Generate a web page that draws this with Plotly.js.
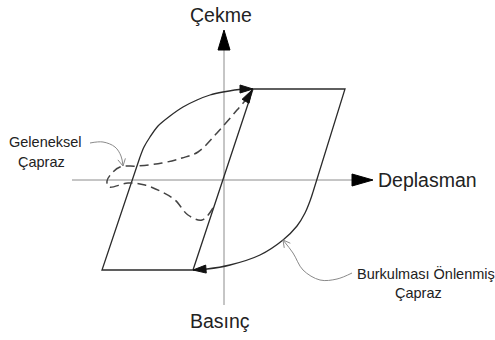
<!DOCTYPE html>
<html>
<head>
<meta charset="utf-8">
<script src="https://cdn.plot.ly/plotly-3.0.1.min.js"></script>
<style>html,body{margin:0;padding:0;background:#fff;}#chart{width:495px;height:340px;}</style>
</head>
<body>
<div id="chart"></div>
<script>
// ---- Data (schematic units: displacement / force) ----
// BRB straight branches (elastic lines + yield plateaus)
const brbEnvX = [-8.4, -12.2, -3.1, 2.9, 12.1, 8.9];
const brbEnvY = [2.3, -9.0, -9.0, 9.1, 9.1, -1.2];
// BRB loading curve (compression -> tension)
const brbLoadX = [-8.4, -8.0, -7.4, -6.6, -5.4, -4.1, -2.7, -1.4, -0.1, 1.9, 2.9];
const brbLoadY = [2.3, 3.3, 4.3, 5.4, 6.4, 7.3, 8.0, 8.5, 8.8, 9.1, 9.1];
// BRB unloading curve (tension -> compression)
const brbUnloadX = [8.9, 8.6, 8.1, 7.3, 5.9, 3.6, 0.6, -1.7, -3.1];
const brbUnloadY = [-1.2, -2.1, -3.3, -4.6, -6.0, -7.5, -8.5, -8.9, -9.0];
// Conventional brace (dashed)
const convX = [-1.1, -2.2, -3.6, -4.9, -6.2, -7.9, -9.6, -11.5, -11.7, -11.2, -10.4, -8.6, -6.2, -4.2, -2.6, -0.7, 1.3, 2.4, 2.8];
const convY = [-2.8, -4.0, -3.5, -2.0, -1.2, -0.5, -0.3, -0.7, -0.1, 0.7, 1.3, 1.4, 1.7, 2.2, 2.8, 4.7, 7.0, 8.3, 9.0];
// Axes extents
const axisXExtent = [-15.2, 14.9];
const axisYExtent = [-12.5, 15.0];
// Callout leader curves
const callConvX = [-13.4, -12.1, -10.9, -10.3, -10.1];
const callConvY = [3.7, 3.8, 3.3, 2.4, 1.4];
const callBrbX = [12.8, 11.3, 9.6, 7.9, 6.9, 5.9];
const callBrbY = [-9.3, -9.9, -10.0, -9.0, -7.3, -6.0];
// Labels
const labelTension = "Çekme";
const labelCompression = "Basınç";
const labelDisp = "Deplasman";
const labelConv = ["Geleneksel", "Çapraz"];
const labelBrb = ["Burkulması Önlenmiş", "Çapraz"];

// ---- helpers ----
function head(tx, ty, fx, fy, len, hw) {
  const dx = tx - fx, dy = ty - fy, L = Math.hypot(dx, dy);
  const ux = dx / L, uy = dy / L;
  const bx = tx - ux * len, by = ty - uy * len;
  return { x: [tx, bx - uy * hw, bx + uy * hw, tx], y: [ty, by + ux * hw, by - ux * hw, ty] };
}
function vee(tx, ty, fx, fy, len, ang) {
  const dx = tx - fx, dy = ty - fy, L = Math.hypot(dx, dy);
  const ux = dx / L, uy = dy / L;
  const r = (a) => [ux * Math.cos(a) - uy * Math.sin(a), ux * Math.sin(a) + uy * Math.cos(a)];
  const p = r(ang), q = r(-ang);
  return { x: [tx - p[0] * len, tx, tx - q[0] * len], y: [ty - p[1] * len, ty, ty - q[1] * len] };
}
const triTrace = (h, color) => ({ x: h.x, y: h.y, mode: 'lines', fill: 'toself', fillcolor: color, line: { color: color, width: 1 }, hoverinfo: 'skip' });

const dark = '#2b2b2b', axisGray = '#8c8c8c', callGray = '#8a8a8a';
const traces = [];
// axes lines
const hxHead = head(axisXExtent[1], 0, axisXExtent[0], 0, 2.1, 0.6);
const vyHead = head(0, axisYExtent[1], 0, axisYExtent[0], 2.0, 0.6);
traces.push({ x: [axisXExtent[0], axisXExtent[1] - 2.1], y: [0, 0], mode: 'lines', line: { color: axisGray, width: 1 }, hoverinfo: 'skip' });
traces.push({ x: [0, 0], y: [axisYExtent[0], axisYExtent[1] - 2.0], mode: 'lines', line: { color: axisGray, width: 1 }, hoverinfo: 'skip' });
traces.push(triTrace(hxHead, '#000'));
traces.push(triTrace(vyHead, '#000'));
// BRB
traces.push({ x: brbEnvX, y: brbEnvY, mode: 'lines', line: { color: dark, width: 1.3 }, hoverinfo: 'skip' });
traces.push({ x: brbLoadX, y: brbLoadY, mode: 'lines', line: { color: dark, width: 1.3, shape: 'spline', smoothing: 0.8 }, hoverinfo: 'skip' });
traces.push({ x: brbUnloadX, y: brbUnloadY, mode: 'lines', line: { color: dark, width: 1.3, shape: 'spline', smoothing: 1 }, hoverinfo: 'skip' });
// conventional
traces.push({ x: convX, y: convY, mode: 'lines', line: { color: '#444', width: 1.5, dash: '9px,5px', shape: 'spline', smoothing: 1 }, hoverinfo: 'skip' });
// arrow heads on curves
const n1 = brbLoadX.length, n2 = brbUnloadX.length, n3 = convX.length;
traces.push(triTrace(head(brbLoadX[n1-1], brbLoadY[n1-1], brbLoadX[n1-2], brbLoadY[n1-2], 1.3, 0.4), '#111'));
traces.push(triTrace(head(brbUnloadX[n2-1], brbUnloadY[n2-1], brbUnloadX[n2-2], brbUnloadY[n2-2], 1.3, 0.4), '#111'));
traces.push(triTrace(head(convX[n3-1], convY[n3-1], convX[n3-2], convY[n3-2], 1.3, 0.4), '#111'));
// callouts
traces.push({ x: callConvX, y: callConvY, mode: 'lines', line: { color: callGray, width: 1, shape: 'spline', smoothing: 1 }, hoverinfo: 'skip' });
traces.push({ x: callBrbX, y: callBrbY, mode: 'lines', line: { color: callGray, width: 1, shape: 'spline', smoothing: 1 }, hoverinfo: 'skip' });
const m1 = callConvX.length, m2 = callBrbX.length;
const v1 = vee(callConvX[m1-1], callConvY[m1-1], callConvX[m1-2], callConvY[m1-2], 0.8, 0.5);
const v2 = vee(callBrbX[m2-1], callBrbY[m2-1], callBrbX[m2-2], callBrbY[m2-2], 0.8, 0.5);
traces.push({ x: v1.x, y: v1.y, mode: 'lines', line: { color: callGray, width: 1 }, hoverinfo: 'skip' });
traces.push({ x: v2.x, y: v2.y, mode: 'lines', line: { color: callGray, width: 1 }, hoverinfo: 'skip' });

const font = (s) => ({ family: 'Liberation Sans, Arial, sans-serif', size: s, color: '#222' });
const ann = (text, x, y, xa, s) => ({ text, x, y, xref: 'x', yref: 'y', xanchor: xa, yanchor: 'middle', showarrow: false, font: font(s) });
const annotations = [
  ann(labelTension, -0.3, 16.5, 'center', 19.5),
  ann(labelCompression, -0.4, -14.1, 'center', 19.5),
  ann(labelDisp, 15.2, 0, 'left', 19.5),
  ann(labelConv[0], -17.9, 3.8, 'center', 14.5),
  ann(labelConv[1], -18.25, 1.8, 'center', 14.5),
  ann(labelBrb[0], 13.1, -9.3, 'left', 14.5),
  ann(labelBrb[1], 19.4, -11.3, 'center', 14.5)
];

const layout = {
  width: 495, height: 340,
  margin: { l: 0, r: 0, t: 0, b: 0 },
  paper_bgcolor: '#fff', plot_bgcolor: '#fff',
  showlegend: false,
  xaxis: { range: [-22.4, 27.1], visible: false, fixedrange: true },
  yaxis: { range: [-16, 18], visible: false, fixedrange: true },
  annotations
};
Plotly.newPlot('chart', traces, layout, { displayModeBar: false, staticPlot: true });
</script>
</body>
</html>
